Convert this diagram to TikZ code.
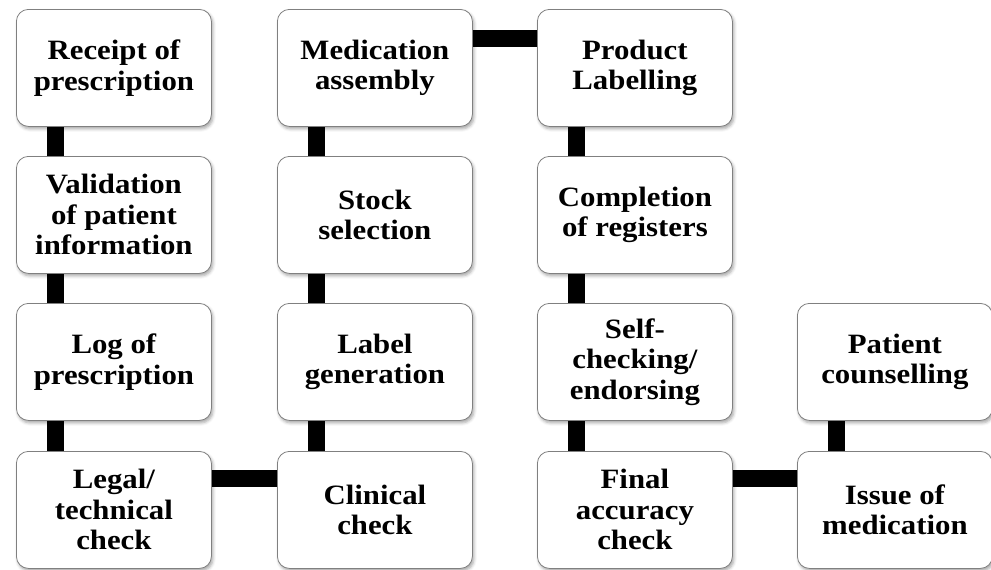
\documentclass[tikz,border=0pt]{standalone}
\usepackage{fontspec}
\setmainfont{Liberation Serif}[FakeStretch=1.1]
\usetikzlibrary{shadows.blur,backgrounds}
\begin{document}
\begin{tikzpicture}[x=1pt,y=-1pt,
  stagebox/.style={draw=black!50, line width=0.8pt, fill=white, rounded corners=12pt,
    minimum width=195pt, minimum height=117pt, inner sep=0pt, anchor=north west,
    align=center, font=\fontsize{28}{30.5}\selectfont\bfseries,
    blur shadow={shadow xshift=1.5pt, shadow yshift=-2.5pt, shadow blur radius=3pt, shadow opacity=35}},
  link/.style={line width=17pt, line cap=butt, draw=black}]
\useasboundingbox (0,0) rectangle (991,570);
\coordinate (h1) at (0,38);
\coordinate (h4) at (0,478);
% column 1
\node[stagebox] (r) at (16,9) {Receipt of\\prescription};
\node[stagebox] (v) at (16,156) {Validation\\of patient\\information};
\node[stagebox] (l) at (16,303) {Log of\\prescription};
\node[stagebox] (g) at (16,451) {Legal/\\technical\\check};
% column 2
\node[stagebox] (m) at (277,9) {Medication\\assembly};
\node[stagebox] (s) at (277,156) {Stock\\selection};
\node[stagebox] (lg) at (277,303) {Label\\generation};
\node[stagebox] (c) at (277,451) {Clinical\\check};
% column 3
\node[stagebox] (p) at (537,9) {Product\\Labelling};
\node[stagebox] (cr) at (537,156) {Completion\\of registers};
\node[stagebox] (sc) at (537,303) {Self-\\checking/\\endorsing};
\node[stagebox] (f) at (537,451) {Final\\accuracy\\check};
% column 4
\node[stagebox] (pc) at (797,303) {Patient\\counselling};
\node[stagebox] (i) at (797,451) {Issue of\\medication};
% links run behind the boxes
\begin{scope}[on background layer]
\foreach \a/\b in {r/v, v/l, l/g, m/s, s/lg, lg/c, p/cr, cr/sc, sc/f, pc/i}
  \draw[link] ([xshift=39pt]\a.south west) -- ([xshift=39pt]\b.north west);
\draw[link] (m.east |- h1) -- (p.west |- h1);
\draw[link] (g.east |- h4) -- (c.west |- h4);
\draw[link] (f.east |- h4) -- (i.west |- h4);
\end{scope}
\end{tikzpicture}
\end{document}
